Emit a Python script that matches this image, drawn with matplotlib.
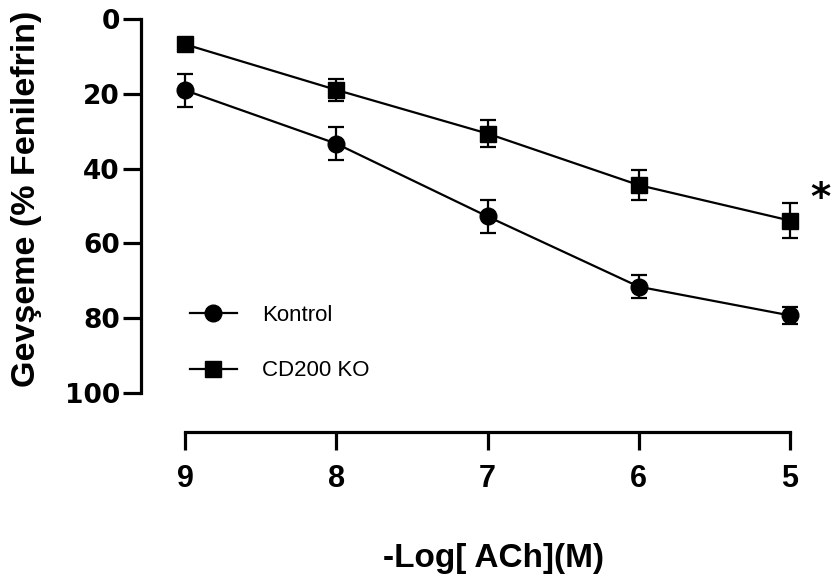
import matplotlib.pyplot as plt

# -Log[ACh] doses and relaxation (% of phenylephrine contraction), mean +/- SEM
doses = [9, 8, 7, 6, 5]
kontrol = [19.0, 33.3, 52.8, 71.6, 79.3]
kontrol_sem = [4.4, 4.5, 4.4, 3.0, 2.2]
cd200ko = [6.7, 18.9, 30.6, 44.4, 53.9]
cd200ko_sem = [1.5, 3.0, 3.7, 4.0, 4.7]
yticks = [0, 20, 40, 60, 80, 100]

narrow = ['Liberation Sans Narrow', 'Liberation Sans', 'DejaVu Sans']

fig = plt.figure(figsize=(8.32, 5.84), dpi=100)
ax = fig.add_axes([0.1691, 0.2603, 0.7932, 0.7195])

for y, err in [(kontrol, kontrol_sem), (cd200ko, cd200ko_sem)]:
    ax.errorbar(doses, y, yerr=err, fmt='none', ecolor='black',
                elinewidth=1.6, capsize=6, capthick=1.6, zorder=2)
ax.plot(doses, kontrol, '-o', color='black', lw=1.6, ms=12, label='Kontrol', zorder=3)
ax.plot(doses, cd200ko, '-s', color='black', lw=1.6, ms=12, label='CD200 KO', zorder=3)

ax.set_xlim(9.293, 4.93)
ax.set_ylim(110.5, -2)
ax.spines['top'].set_visible(False)
ax.spines['right'].set_visible(False)
ax.spines['left'].set_bounds(0, 100)
ax.spines['bottom'].set_bounds(9, 5)
for s in ['left', 'bottom']:
    ax.spines[s].set_linewidth(2.3)

ax.set_xticks(doses)
ax.set_yticks(yticks)
ax.tick_params(axis='both', length=13, width=2.3, color='black')
ax.tick_params(axis='y', pad=2)
ax.tick_params(axis='x', pad=10)
for lab in ax.get_yticklabels():
    lab.set_fontfamily('DejaVu Sans')
    lab.set_fontweight('bold')
    lab.set_fontsize(19)
for lab in ax.get_xticklabels():
    lab.set_fontfamily(narrow)
    lab.set_fontweight('bold')
    lab.set_fontsize(22)

ax.set_ylabel('Gevşeme (% Fenilefrin)', fontsize=24.5, fontweight='bold',
              family=['Liberation Sans', 'DejaVu Sans'])
ax.yaxis.set_label_coords(-0.15, 0.555)
ax.set_xlabel('-Log[ ACh](M)', fontsize=24, fontweight='bold',
              family=['Liberation Sans', 'DejaVu Sans'])
ax.xaxis.set_label_coords(0.535, -0.265)

ax.legend(loc='upper left', bbox_to_anchor=(190 / 832, 1 - 305 / 584),
          bbox_transform=fig.transFigure, frameon=False, borderpad=0,
          borderaxespad=0, handlelength=2.1, handletextpad=1.15,
          labelspacing=1.55, prop={'family': 'Liberation Sans', 'size': 16})

fig.text(820 / 832, 1 - 199 / 584, '*', fontsize=28, fontweight='bold',
         ha='center', va='center', family='DejaVu Sans')

plt.savefig('out.png', dpi=100)
plt.close(fig)
